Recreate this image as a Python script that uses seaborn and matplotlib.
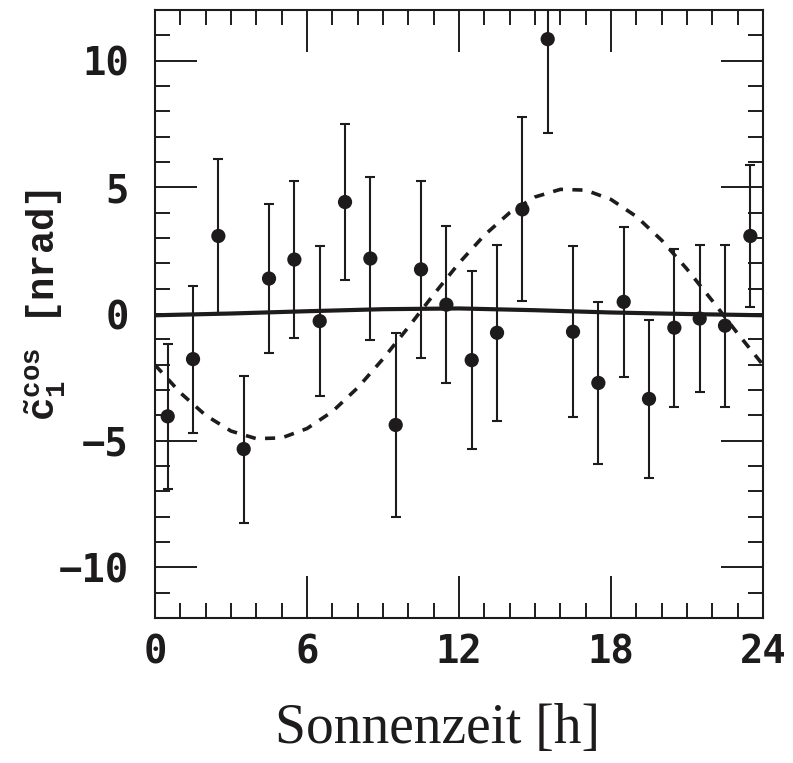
import matplotlib
matplotlib.use('Agg')
import matplotlib.pyplot as plt
import seaborn as sns
import pandas as pd
from matplotlib.ticker import MultipleLocator

# measured points (one per hour bin)
hours = [0.5, 1.5, 2.5, 3.5, 4.5, 5.5, 6.5, 7.5, 8.5, 9.5, 10.5, 11.5,
         12.5, 13.5, 14.5, 15.5, 16.5, 17.5, 18.5, 19.5, 20.5, 21.5, 22.5, 23.5]
c1cos = [-4.04, -1.78, 3.08, -5.33, 1.40, 2.15, -0.28, 4.42, 2.19, -4.38, 1.76, 0.37,
         -1.82, -0.74, 4.13, 10.85, -0.70, -2.72, 0.48, -3.35, -0.54, -0.18, -0.46, 3.08]
c1cos_err = [2.85, 2.90, 3.05, 2.90, 2.95, 3.10, 2.97, 3.07, 3.23, 3.65, 3.48, 3.10,
             3.50, 3.47, 3.63, 3.70, 3.38, 3.20, 2.97, 3.13, 3.12, 2.90, 3.20, 2.80]

fit_t = [0, 3, 6, 9, 12, 15, 18, 21, 24]
fit_v = [-0.05, 0.02, 0.11, 0.19, 0.22, 0.15, 0.06, 0.0, -0.05]

model_t = list(range(25))
model_v = [-2.01, -3.11, -4.00, -4.62, -4.92, -4.89, -4.52, -3.85, -2.91, -1.77, -0.52,
           0.77, 2.01, 3.11, 4.00, 4.62, 4.92, 4.89, 4.52, 3.85, 2.91, 1.77, 0.52,
           -0.77, -2.01]

ink = '#1e1b1c'

sns.set_style('ticks')
plt.rcParams['font.family'] = ['DejaVu Sans Mono']
plt.rcParams['font.weight'] = 'bold'
plt.rcParams['mathtext.fontset'] = 'custom'
plt.rcParams['mathtext.rm'] = 'Liberation Mono:bold'
plt.rcParams['mathtext.it'] = 'Liberation Mono:bold'
plt.rcParams['mathtext.bf'] = 'Liberation Mono:bold'
plt.rcParams['axes.unicode_minus'] = True

df = pd.DataFrame({'t': hours, 'c': c1cos, 'err': c1cos_err})

fig = plt.figure(figsize=(7.93, 7.63), dpi=100)
ax = fig.add_axes([0.1955, 0.19, 0.7667, 0.7969])

ax.errorbar(df['t'], df['c'], yerr=df['err'], fmt='none', ecolor=ink,
            elinewidth=1.5, capsize=3.4, capthick=1.5, zorder=2)
sns.scatterplot(data=df, x='t', y='c', s=105, color=ink, edgecolor='none', ax=ax, zorder=3)
sns.lineplot(x=model_t, y=model_v, color=ink, lw=2.6, linestyle=(0, (2.8, 2.6)), ax=ax, zorder=2)
sns.lineplot(x=fit_t, y=fit_v, color=ink, lw=3.0, ax=ax, zorder=4)

ax.set_xlim(0, 24)
ax.set_ylim(-12, 12)
ax.set_xticks([0, 6, 12, 18, 24])
ax.set_yticks([-10, -5, 0, 5, 10])
ax.xaxis.set_minor_locator(MultipleLocator(1))
ax.yaxis.set_minor_locator(MultipleLocator(1))
ax.tick_params(which='major', direction='in', length=30, width=1.4, color=ink,
               top=True, right=True, labelsize=28, labelcolor=ink)
ax.tick_params(axis='x', which='major', pad=11)
ax.tick_params(axis='y', which='major', pad=19)
ax.tick_params(which='minor', direction='in', length=11, width=1.4, color=ink,
               top=True, right=True)
for sp in ax.spines.values():
    sp.set_linewidth(1.5)
    sp.set_color(ink)

ax.set_xlabel('Sonnenzeit [h]', fontsize=40, fontfamily='Liberation Serif',
              fontweight='normal', color=ink)
ax.xaxis.set_label_coords(0.465, -0.14)
ax.set_ylabel(r'$\tilde{\mathrm{c}}_1^{\mathrm{cos}}$ [nrad]', fontsize=28,
              fontfamily='Liberation Mono', fontweight='bold', color=ink)
ax.yaxis.set_label_coords(-0.143, 0.515)

fig.savefig('out.png', dpi=100)
